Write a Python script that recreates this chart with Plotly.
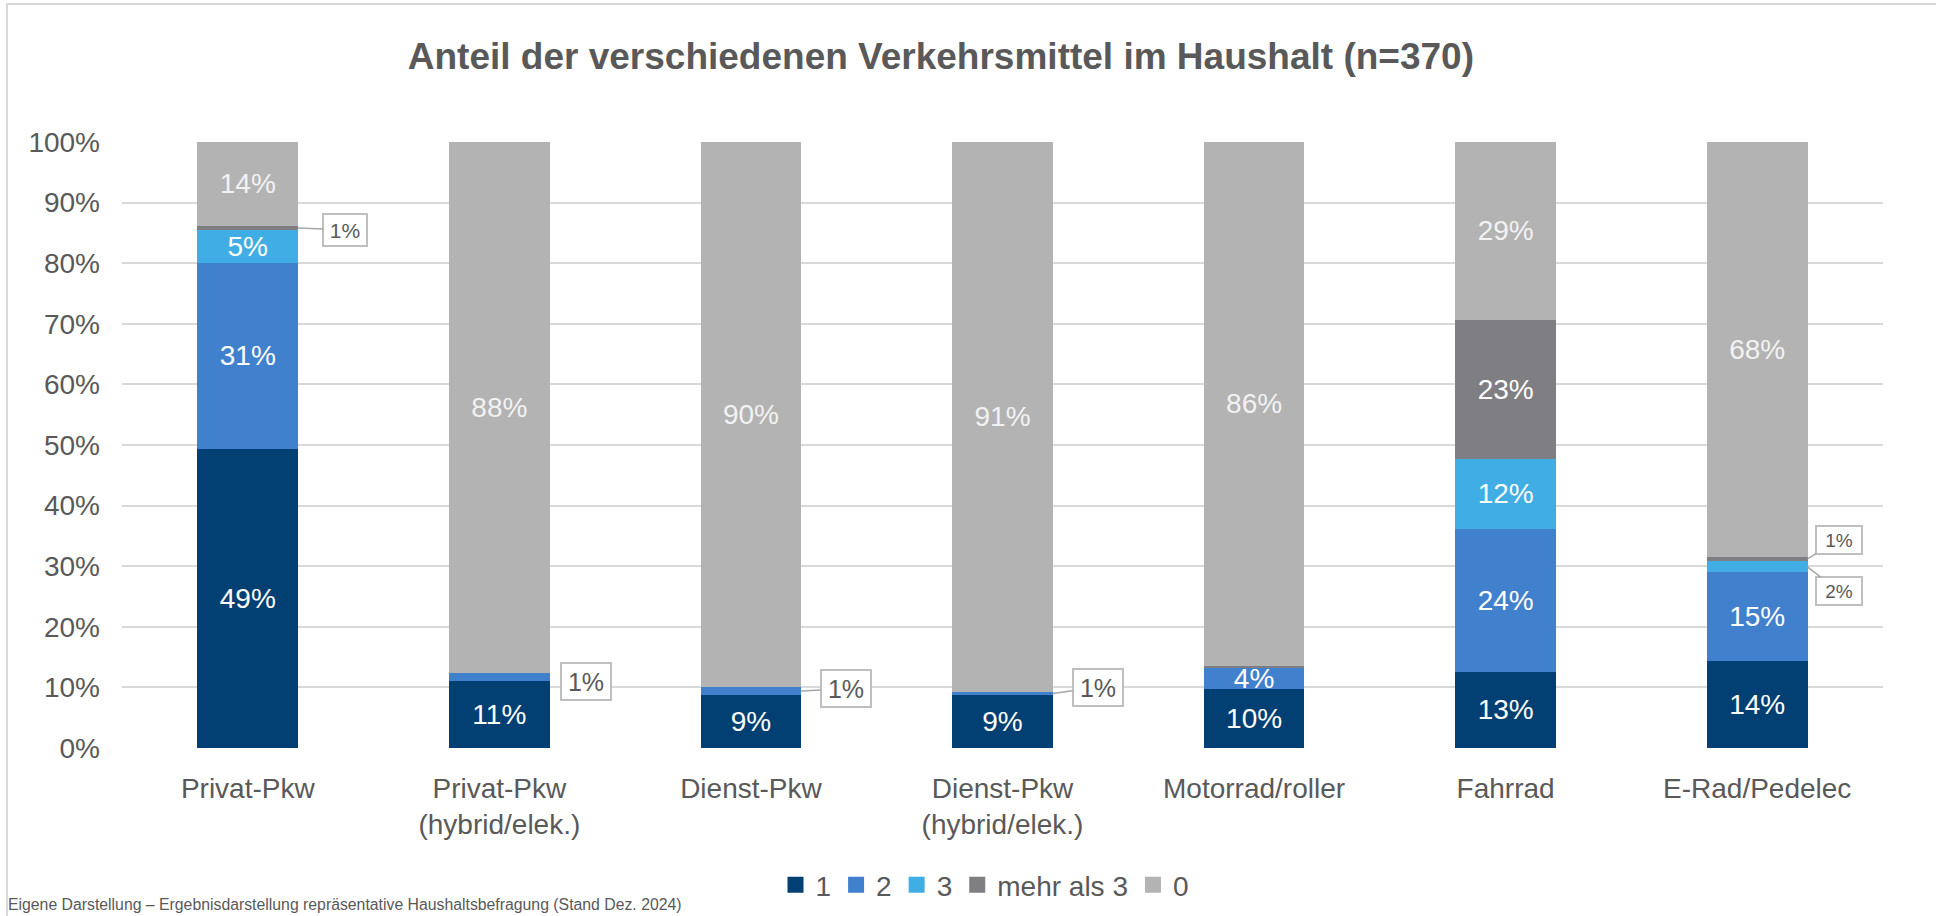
import plotly.graph_objects as go

categories = ["Privat-Pkw", "Privat-Pkw<br>(hybrid/elek.)", "Dienst-Pkw",
              "Dienst-Pkw<br>(hybrid/elek.)", "Motorrad/roller", "Fahrrad", "E-Rad/Pedelec"]
series_names = ["1", "2", "3", "mehr als 3", "0"]
s1 = [49.4, 11.0, 8.8, 8.7, 9.7, 12.6, 14.4]
s2 = [30.6, 1.4, 1.2, 0.6, 3.6, 23.6, 14.6]
s3 = [5.4, 0.0, 0.0, 0.0, 0.0, 11.5, 1.8]
s_more = [0.8, 0.0, 0.0, 0.0, 0.3, 23.0, 0.8]
s0 = [13.8, 87.6, 90.0, 90.7, 86.4, 29.3, 68.4]
y_ticks = [0, 10, 20, 30, 40, 50, 60, 70, 80, 90, 100]
y_tick_labels = ["0%", "10%", "20%", "30%", "40%", "50%", "60%", "70%", "80%", "90%", "100%"]

colors = ["#023f73", "#4180cd", "#40aee5", "#7f7f83", "#b3b3b3"]
text_colors = ["#ffffff", "#ffffff", "#ffffff", "#ffffff", "#f2f2f2"]
series = [s1, s2, s3, s_more, s0]

FONT = "Liberation Sans, Arial, sans-serif"
GREY = "#595959"

fig = go.Figure()
for name, vals, col, tcol in zip(series_names, series, colors, text_colors):
    texts = [f"{round(v):d}%" if v >= 3 else "" for v in vals]
    fig.add_trace(go.Bar(
        x=list(range(len(categories))), y=vals, name=name, showlegend=False,
        marker=dict(color=col, line=dict(width=0)),
        text=texts, textposition="inside", insidetextanchor="middle",
        textfont=dict(family=FONT, size=28, color=tcol),
        hoverinfo="skip",
    ))
# legend entries with square symbols
for name, col in zip(series_names, colors):
    fig.add_trace(go.Scatter(
        x=[None], y=[None], mode="markers", name=name,
        marker=dict(symbol="square", size=16, color=col), hoverinfo="skip",
    ))

# callout labels for small segments: (series index, category index, box x, box y, font size, w, h, arrow)
callouts = [
    (3, 0, 0.387, 85.5, 21, 40, 28, True),
    (1, 1, 1.343, 11.0, 25, 46, 33, False),
    (1, 2, 2.378, 9.8, 25, 46, 33, True),
    (1, 3, 3.378, 10.0, 25, 46, 33, True),
    (3, 6, 6.324, 34.4, 19, 42, 24, True),
    (2, 6, 6.324, 25.9, 19, 42, 24, True),
]
annotations = []
for si, ci, bx, by, fs, w, h, arr in callouts:
    base = sum(series[k][ci] for k in range(si))
    mid = base + series[si][ci] / 2
    val = series[si][ci]
    annotations.append(dict(
        x=ci + 0.2 if arr else bx, y=mid if arr else by,
        xref="x", yref="y",
        ax=bx, ay=by, axref="x", ayref="y",
        showarrow=arr, arrowhead=0, arrowwidth=1.5, arrowcolor="#a6a6a6",
        text=f"{round(val):d}%", font=dict(family=FONT, size=fs, color=GREY),
        bgcolor="#ffffff", bordercolor="#bfbfbf", borderwidth=2,
        width=w, height=h, align="center", valign="middle",
    ))

annotations.append(dict(
    x=(6 - 122) / 1761, y=-0.259, xref="paper", yref="paper", xanchor="left", yanchor="middle",
    showarrow=False,
    text="Eigene Darstellung – Ergebnisdarstellung repräsentative Haushaltsbefragung (Stand Dez. 2024)",
    font=dict(family=FONT, size=15.8, color=GREY),
))

fig.update_layout(
    barmode="stack",
    bargap=0.6,
    width=1936, height=916,
    margin=dict(l=122, r=53, t=142, b=168, autoexpand=False),
    paper_bgcolor="#ffffff", plot_bgcolor="#ffffff",
    title=dict(text="<b>Anteil der verschiedenen Verkehrsmittel im Haushalt (n=370)</b>",
               x=0.486, xanchor="center", xref="container",
               y=1 - 56 / 916, yanchor="middle", yref="container",
               font=dict(family=FONT, size=37, color=GREY)),
    legend=dict(orientation="h", x=(985 - 122) / 1761, xanchor="center", y=-0.226, yanchor="middle",
                font=dict(family=FONT, size=28, color=GREY), traceorder="normal",
                itemwidth=30, itemsizing="trace", bgcolor="rgba(0,0,0,0)"),
    uniformtext=dict(mode="show", minsize=28),
    annotations=annotations,
    shapes=[dict(type="rect", xref="paper", yref="paper",
                 x0=(7 - 122) / 1761, x1=1.05, y0=-0.5, y1=(748 - 4) / 606,
                 line=dict(color="#d9d9d9", width=2), fillcolor="rgba(0,0,0,0)", layer="below")],
    showlegend=True,
)
fig.update_xaxes(
    tickmode="array", tickvals=list(range(len(categories))), ticktext=categories,
    range=[-0.5, len(categories) - 0.5],
    showgrid=False, zeroline=False, showline=False, ticks="",
    tickfont=dict(family=FONT, size=28, color=GREY), ticklabelstandoff=21,
)
fig.update_yaxes(
    range=[0, 100], tickmode="array", tickvals=y_ticks, ticktext=y_tick_labels,
    showgrid=True, gridcolor="#d9d9d9", gridwidth=2, zeroline=False, showline=False,
    ticks="", tickfont=dict(family=FONT, size=28, color=GREY), ticklabelstandoff=21,
)

fig.write_html("out.html", config={"displayModeBar": False},
               post_script="document.body.style.margin='0';document.body.style.overflow='hidden';")
